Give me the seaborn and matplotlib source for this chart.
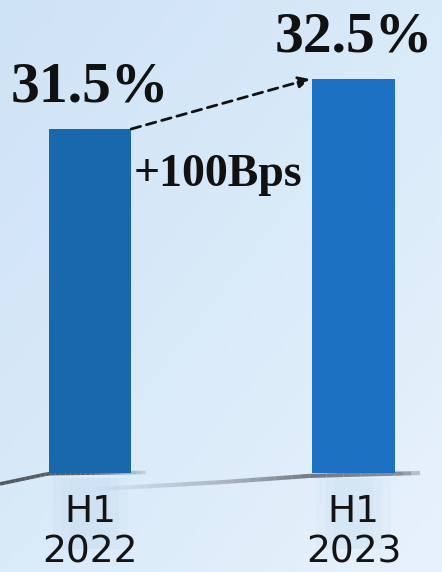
import numpy as np
import pandas as pd
import matplotlib
matplotlib.use("Agg")
import matplotlib.pyplot as plt
from matplotlib.colors import LinearSegmentedColormap
from matplotlib.collections import LineCollection
import seaborn as sns

# Gross margin by half-year
periods = ["H1\n2022", "H1\n2023"]
margins = [31.5, 32.5]
value_labels = ["31.5%", "32.5%"]
change_label = "+100Bps"
bar_colors = ["#1968ab", "#1c70c2"]

df = pd.DataFrame({"period": periods, "margin": margins})

sns.set_theme(style="white")
plt.rcParams["font.family"] = ["DejaVu Sans"]

fig = plt.figure(figsize=(4.42, 5.72), dpi=100)

# soft light-blue backdrop
bg = fig.add_axes([0, 0, 1, 1])
bg.set_axis_off()
yy, xx = np.mgrid[0:1:200j, 0:1:160j]
field = 0.5 * yy + 0.5 * xx
bg_cmap = LinearSegmentedColormap.from_list(
    "bgblue", ["#cfe3f6", "#d9eaf9", "#e8f2fc"])
bg.imshow(field, cmap=bg_cmap, aspect="auto", extent=[0, 1, 0, 1],
          origin="upper")
bg.set_xlim(0, 1)
bg.set_ylim(0, 1)


def shadow(xs, ys, alphas, lw, color):
    pts = np.column_stack([xs, ys])
    segs = np.stack([pts[:-1], pts[1:]], axis=1)
    rgba = np.array([matplotlib.colors.to_rgba(color, a) for a in alphas])
    bg.add_collection(LineCollection(segs, colors=rgba, linewidths=lw,
                                     capstyle="butt", joinstyle="miter"))


# floor shadows
sx1 = np.linspace(0.0, 0.33, 30)
sy1 = np.interp(sx1, [0.0, 0.11, 0.33], [0.154, 0.172, 0.174])
shadow(sx1, sy1, np.interp(sx1[:-1], [0, 0.2, 0.33], [0.85, 0.8, 0.1]),
       2.6, "#3b3f46")
sx2 = np.linspace(0.20, 0.95, 40)
sy2 = np.interp(sx2, [0.20, 0.5, 0.70, 0.95], [0.144, 0.157, 0.168, 0.173])
shadow(sx2, sy2, np.interp(sx2[:-1], [0.2, 0.5, 0.7, 0.9, 0.95],
                           [0.0, 0.35, 0.75, 0.6, 0.1]),
       3.0, "#4a5058")
for xc in (0.204, 0.80):
    for k, a in zip((0.085, 0.065, 0.045), (0.10, 0.10, 0.10)):
        bg.axvspan(xc - k, xc + k, ymin=0.04, ymax=0.165,
                   color="#b5d3ec", alpha=a, lw=0)

ax = fig.add_axes([0, 0.173, 1, 0.827])
ax.patch.set_alpha(0)
sns.barplot(data=df, x="period", y="margin", hue="period",
            palette=bar_colors, width=0.312, legend=False, ax=ax,
            saturation=1, linewidth=0)

ax.set_ylim(24.62, 34.08)
ax.set_xlim(-0.342, 1.336)
sns.despine(ax=ax, left=True, bottom=True)
ax.set_yticks([])
ax.set_xlabel("")
ax.set_ylabel("")
ax.tick_params(axis="x", length=0, pad=15)
for lab in ax.get_xticklabels():
    lab.set_fontsize(27)
    lab.set_color("#141414")
    lab.set_linespacing(1.17)
    lab.set_fontfamily(["DejaVu Sans"])

serif = ["Liberation Serif", "DejaVu Serif"]
half = 0.156
for i, (v, txt) in enumerate(zip(margins, value_labels)):
    ax.annotate(txt, xy=(i, v), xytext=(0, 19.5), textcoords="offset points",
                ha="center", va="baseline", fontsize=41.5, fontweight="bold",
                family=serif, color="#111111")

# dashed arrow from the first bar's top to the second
ax.annotate("", xy=(1 - half - 0.01, margins[1]),
            xytext=(0 + half, margins[0]),
            arrowprops=dict(arrowstyle="-|>,head_length=0.55,head_width=0.28",
                            linestyle=(0, (3.5, 2.2)), lw=2.0, color="#111111",
                            shrinkA=0, shrinkB=0))
ax.annotate(change_label, xy=(0 + half, margins[0]), xytext=(2, -41),
            textcoords="offset points", ha="left", va="baseline",
            fontsize=33, fontweight="bold", family=serif, color="#111111")

fig.savefig("out.png", dpi=100)
